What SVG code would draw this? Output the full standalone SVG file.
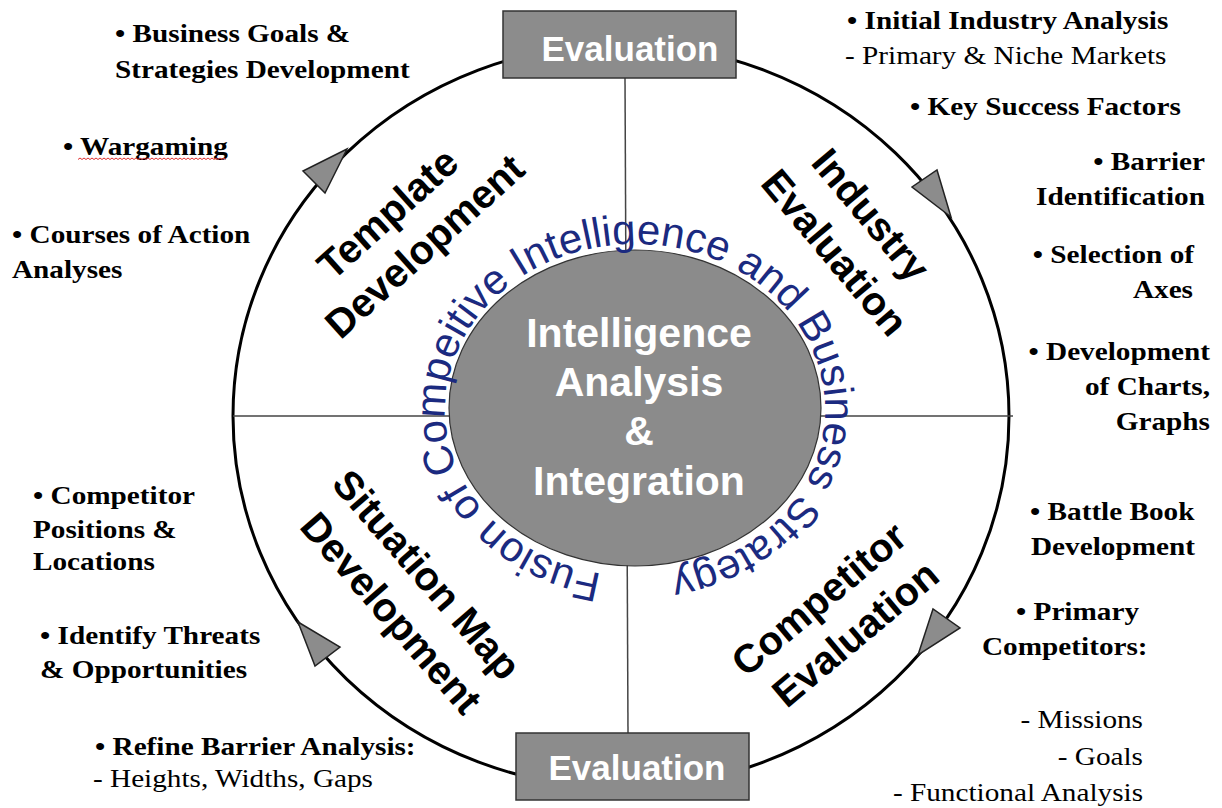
<svg xmlns="http://www.w3.org/2000/svg" width="1222" height="808" viewBox="0 0 1222 808">
  <style>
    .note { font-family: "Liberation Serif", "Times New Roman", serif; font-size: 25px; font-weight: bold; fill: #000; }
    .sub { font-weight: normal; }
    .phase { font-family: "Liberation Sans", Arial, sans-serif; font-size: 40px; font-weight: bold; fill: #000; }
    .hub { font-family: "Liberation Sans", Arial, sans-serif; font-size: 41px; font-weight: bold; fill: #fff; }
    .evtext { font-family: "Liberation Sans", Arial, sans-serif; font-size: 35px; font-weight: bold; fill: #fff; }
    .ring { font-family: "Liberation Sans", Arial, sans-serif; font-size: 42px; fill: #1b2a80; }
    .box { fill: #8c8c8c; stroke: #333; stroke-width: 1.5; }
    .arrow { fill: #8c8c8c; stroke: #222; stroke-width: 1.5; stroke-linejoin: miter; }
    .axis { stroke: #444; stroke-width: 1.5; fill: none; }
  </style>
  <defs>
    <path id="ringPath" d="M602,573.5 A190,166 0 0 1 668,246.5 A190,166 0 0 1 602,573.5"/>
  </defs>
  <rect width="1222" height="808" fill="#fff"/>

  <!-- cycle ring, quadrant dividers and direction arrows -->
  <g id="connectors">
    <ellipse cx="621" cy="416" rx="388" ry="372" fill="none" stroke="#000" stroke-width="3"/>
    <line class="axis" x1="233" y1="416" x2="1013" y2="416"/>
    <line class="axis" x1="625" y1="78" x2="628" y2="733"/>
    <polygon class="arrow" points="347,149 303,171 325,193"/>
    <polygon class="arrow" points="951,217 912,187 937,170"/>
    <polygon class="arrow" points="918,655 933,609 960,628"/>
    <polygon class="arrow" points="298,622 340,647 315,666"/>
  </g>

  <g id="eval-top">
    <rect class="box" x="503" y="11" width="233" height="67"/>
    <text class="evtext" x="630" y="61" text-anchor="middle">Evaluation</text>
  </g>
  <g id="eval-bottom">
    <rect class="box" x="516" y="733" width="233" height="67"/>
    <text class="evtext" x="637" y="780" text-anchor="middle">Evaluation</text>
  </g>

  <g id="hub">
    <ellipse cx="635" cy="408" rx="186" ry="158" fill="#8b8b8b" stroke="#333" stroke-width="1.2"/>
    <text class="hub" x="639" y="347" text-anchor="middle">Intelligence</text>
    <text class="hub" x="639" y="396" text-anchor="middle">Analysis</text>
    <text class="hub" x="639" y="445" text-anchor="middle">&amp;</text>
    <text class="hub" x="639" y="495" text-anchor="middle">Integration</text>
  </g>

  <g id="fusion-ring">
    <text class="ring"><textPath href="#ringPath">Fusion of Compeitive Intelligence and Business Strategy</textPath></text>
  </g>

  <g id="phase-template">
    <text class="phase" text-anchor="middle" transform="translate(401,220) rotate(-42)">
      <tspan x="0" y="0">Template</tspan>
      <tspan x="0" y="49">Development</tspan>
    </text>
  </g>
  <g id="phase-industry">
    <text class="phase" text-anchor="middle" transform="translate(864,228) rotate(50)">
      <tspan x="0" y="0">Industry</tspan>
      <tspan x="0" y="52">Evaluation</tspan>
    </text>
  </g>
  <g id="phase-competitor">
    <text class="phase" text-anchor="middle" transform="translate(832,606) rotate(-40)">
      <tspan x="0" y="0">Competitor</tspan>
      <tspan x="0" y="50">Evaluation</tspan>
    </text>
  </g>
  <g id="phase-situation">
    <text class="phase" text-anchor="middle" transform="translate(420,588) rotate(49)">
      <tspan x="0" y="0">Situation Map</tspan>
      <tspan x="0" y="52">Development</tspan>
    </text>
  </g>

  <!-- upper-left activities -->
  <g id="notes-template">
    <text class="note" transform="translate(115,42) scale(1.17 1)">• Business Goals &amp;</text>
    <text class="note" transform="translate(115,78) scale(1.17 1)">Strategies Development</text>
    <text class="note" transform="translate(63,155) scale(1.17 1)">• Wargaming</text>
    <path d="M78,159.5 l2,-1.5 l2,1.5 l2,-1.5 l2,1.5 l2,-1.5 l2,1.5 l2,-1.5 l2,1.5 l2,-1.5 l2,1.5 l2,-1.5 l2,1.5 l2,-1.5 l2,1.5 l2,-1.5 l2,1.5 l2,-1.5 l2,1.5 l2,-1.5 l2,1.5 l2,-1.5 l2,1.5 l2,-1.5 l2,1.5 l2,-1.5 l2,1.5 l2,-1.5 l2,1.5 l2,-1.5 l2,1.5 l2,-1.5 l2,1.5 l2,-1.5 l2,1.5 l2,-1.5 l2,1.5 l2,-1.5 l2,1.5 l2,-1.5 l2,1.5 l2,-1.5 l2,1.5 l2,-1.5 l2,1.5 l2,-1.5 l2,1.5 l2,-1.5 l2,1.5 l2,-1.5 l2,1.5 l2,-1.5 l2,1.5 l2,-1.5 l2,1.5 l2,-1.5 l2,1.5 l2,-1.5 l2,1.5 l2,-1.5 l2,1.5 l2,-1.5 l2,1.5 l2,-1.5 l2,1.5 l2,-1.5 l2,1.5 l2,-1.5 l2,1.5 l2,-1.5 l2,1.5 l2,-1.5 l2,1.5 l2,-1.5 l2,1.5" fill="none" stroke="#e03030" stroke-width="1"/>
    <text class="note" transform="translate(12,243) scale(1.17 1)">• Courses of Action</text>
    <text class="note" transform="translate(12,278) scale(1.17 1)">Analyses</text>
  </g>

  <!-- upper-right activities -->
  <g id="notes-industry">
    <text class="note" transform="translate(847,29) scale(1.17 1)">• Initial Industry Analysis</text>
    <text class="note sub" transform="translate(845,64) scale(1.17 1)">- Primary &amp; Niche Markets</text>
    <text class="note" transform="translate(910,115) scale(1.17 1)">• Key Success Factors</text>
    <text class="note" text-anchor="end" transform="translate(1205,170) scale(1.17 1)">• Barrier</text>
    <text class="note" text-anchor="end" transform="translate(1205,205) scale(1.17 1)">Identification</text>
    <text class="note" text-anchor="end" transform="translate(1194,263) scale(1.17 1)">• Selection of</text>
    <text class="note" text-anchor="end" transform="translate(1193,298) scale(1.17 1)">Axes</text>
    <text class="note" text-anchor="end" transform="translate(1210,360) scale(1.17 1)">• Development</text>
    <text class="note" text-anchor="end" transform="translate(1210,395) scale(1.17 1)">of  Charts,</text>
    <text class="note" text-anchor="end" transform="translate(1210,430) scale(1.17 1)">Graphs</text>
  </g>

  <!-- lower-right activities -->
  <g id="notes-competitor">
    <text class="note" transform="translate(1030,520) scale(1.17 1)">• Battle Book</text>
    <text class="note" transform="translate(1031,555) scale(1.17 1)">Development</text>
    <text class="note" transform="translate(1016,620) scale(1.17 1)">• Primary</text>
    <text class="note" transform="translate(982,655) scale(1.17 1)">Competitors:</text>
    <text class="note sub" text-anchor="end" transform="translate(1143,728) scale(1.17 1)">- Missions</text>
    <text class="note sub" text-anchor="end" transform="translate(1143,765) scale(1.17 1)">- Goals</text>
    <text class="note sub" text-anchor="end" transform="translate(1143,801) scale(1.17 1)">- Functional Analysis</text>
  </g>

  <!-- lower-left activities -->
  <g id="notes-situation">
    <text class="note" transform="translate(33,504) scale(1.17 1)">• Competitor</text>
    <text class="note" transform="translate(33,538) scale(1.17 1)">Positions &amp;</text>
    <text class="note" transform="translate(33,570) scale(1.17 1)">Locations</text>
    <text class="note" transform="translate(40,644) scale(1.17 1)">• Identify Threats</text>
    <text class="note" transform="translate(40,678) scale(1.17 1)">&amp; Opportunities</text>
    <text class="note" transform="translate(95,755) scale(1.17 1)">• Refine Barrier Analysis:</text>
    <text class="note sub" transform="translate(93,787) scale(1.17 1)">- Heights, Widths, Gaps</text>
  </g>
</svg>
